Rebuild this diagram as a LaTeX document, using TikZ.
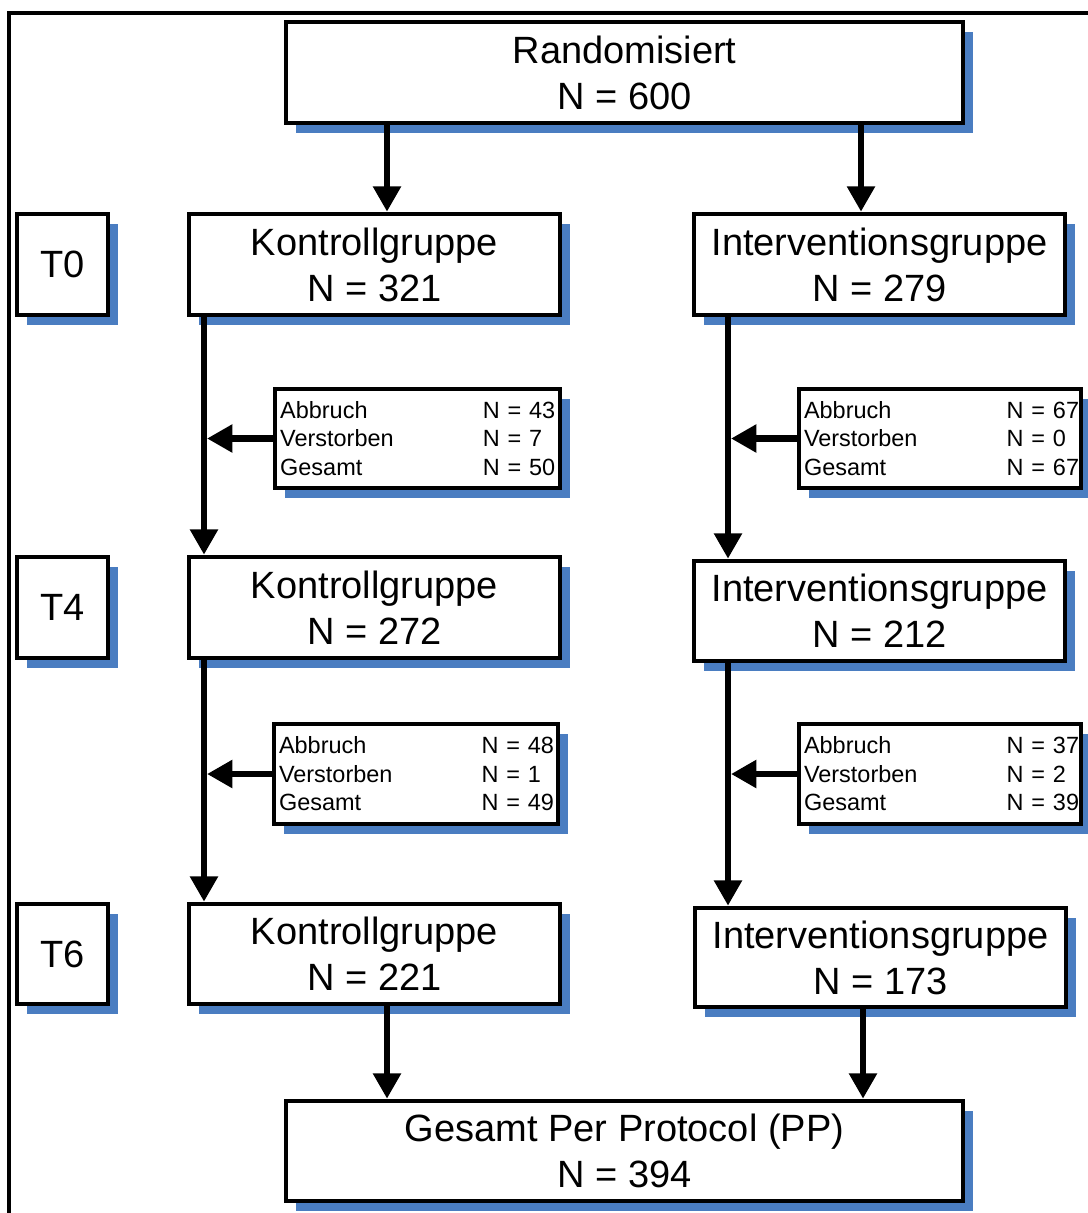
\documentclass[tikz,border=0pt]{standalone}
\usepackage{fontspec}
\setmainfont{Liberation Sans}
\usetikzlibrary{arrows.meta,shadows}
\definecolor{shadowblue}{RGB}{74,125,193}
\newcommand{\droprow}[2]{\makebox[152pt][l]{#1}\rlap{#2}}
\begin{document}
\begin{tikzpicture}[x=0.75pt,y=-0.75pt,
  box/.style={draw, line width=3.4pt, fill=white, inner sep=0pt, align=center,
    font=\fontsize{28.5pt}{34.5pt}\selectfont,
    drop shadow={shadow xshift=7.5pt,shadow yshift=-7.5pt,opacity=1,fill=shadowblue}},
  sz/.style 2 args={minimum width=#1*0.75pt, minimum height=#2*0.75pt},
  dbox/.style={box, align=left, font=\fontsize{17.6pt}{21.4pt}\selectfont,
    inner xsep=3.75pt, inner ysep=0pt},
  arr/.style={line width=5.2pt, -{Triangle[width=20pt,length=19pt]}},
  frame/.style={line width=3pt}]
\useasboundingbox (0,0) rectangle (1088,1213);
\clip (0,0) rectangle (1088,1213);
\draw[frame] (9,13) rectangle (1120,1250);

% helper x positions
\coordinate (kx) at (387,0);
\coordinate (ix) at (861,0);
\coordinate (ixb) at (863,0);
\coordinate (lx) at (204,0);
\coordinate (rx) at (728,0);
\coordinate (lxe) at (207,0);
\coordinate (rxe) at (731,0);

% boxes
\node[box, sz={677}{101}] (rand) at (624.5,72.5) {Randomisiert\\N = 600};

\node[box, sz={91}{101}] (t0) at (62.5,264.5) {T0};
\node[box, sz={371}{101}] (k0) at (374.5,264.5) {Kontrollgruppe\\N = 321};
\node[box, sz={371}{101}] (i0) at (879.5,264.5) {Interventionsgruppe\\N = 279};

\node[dbox, text width=206pt, minimum height=74.25pt] (d1l) at (417.5,438.5)
  {\droprow{Abbruch}{N = 43}\\\droprow{Verstorben}{N = 7}\\\droprow{Gesamt}{N = 50}};
\node[dbox, text width=204pt, minimum height=74.25pt] (d1r) at (940,438.5)
  {\droprow{Abbruch}{N = 67}\\\droprow{Verstorben}{N = 0}\\\droprow{Gesamt}{N = 67}};

\node[box, sz={91}{101}] (t4) at (62.5,607.5) {T4};
\node[box, sz={371}{101}] (k4) at (374.5,607.5) {Kontrollgruppe\\N = 272};
\node[box, sz={371}{100}] (i4) at (879.5,611) {Interventionsgruppe\\N = 212};

\node[dbox, text width=205.5pt, minimum height=75pt] (d2l) at (416,774)
  {\droprow{Abbruch}{N = 48}\\\droprow{Verstorben}{N = 1}\\\droprow{Gesamt}{N = 49}};
\node[dbox, text width=204pt, minimum height=75pt] (d2r) at (940,774)
  {\droprow{Abbruch}{N = 37}\\\droprow{Verstorben}{N = 2}\\\droprow{Gesamt}{N = 39}};

\node[box, sz={91}{100}] (t6) at (62.5,954) {T6};
\node[box, sz={371}{100}] (k6) at (374.5,954) {Kontrollgruppe\\N = 221};
\node[box, sz={371}{99}] (i6) at (880.5,957.5) {Interventionsgruppe\\N = 173};

\node[box, sz={677}{100}] (pp) at (624.5,1151) {Gesamt Per Protocol (PP)\\N = 394};

% connectors
\draw[arr] (rand.south -| kx) -- (k0.north -| kx);
\draw[arr] (rand.south -| ix) -- (i0.north -| ix);

\draw[arr] (k0.south -| lx) -- (k4.north -| lx);
\draw[arr] (k4.south -| lx) -- (k6.north -| lx);
\draw[arr] (i0.south -| rx) -- (i4.north -| rx);
\draw[arr] (i4.south -| rx) -- (i6.north -| rx);

\draw[arr] (d1l.west) -- (d1l.west -| lxe);
\draw[arr] (d2l.west) -- (d2l.west -| lxe);
\draw[arr] (d1r.west) -- (d1r.west -| rxe);
\draw[arr] (d2r.west) -- (d2r.west -| rxe);

\draw[arr] (k6.south -| kx) -- (pp.north -| kx);
\draw[arr] (i6.south -| ixb) -- (pp.north -| ixb);
\end{tikzpicture}
\end{document}
